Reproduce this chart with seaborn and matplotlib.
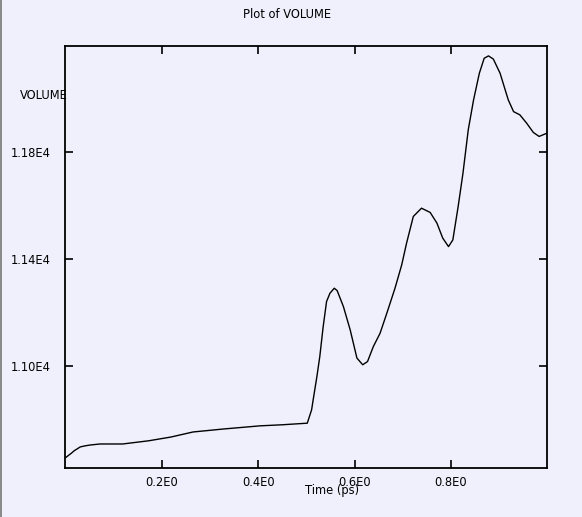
import numpy as np
import pandas as pd
import matplotlib
matplotlib.use('Agg')
import matplotlib.pyplot as plt
from matplotlib.patches import Rectangle
import seaborn as sns

# 데이터
time_ps = [0.0, 0.013, 0.018, 0.031, 0.041, 0.051, 0.072, 0.119, 0.173, 0.219,
           0.265, 0.327, 0.404, 0.450, 0.502, 0.511, 0.514, 0.522, 0.528, 0.535,
           0.542, 0.549, 0.558, 0.564, 0.577, 0.591, 0.605, 0.617, 0.627, 0.639,
           0.653, 0.667, 0.684, 0.698, 0.708, 0.722, 0.739, 0.757, 0.771, 0.783,
           0.795, 0.804, 0.815, 0.825, 0.836, 0.847, 0.859, 0.869, 0.878, 0.888,
           0.902, 0.919, 0.930, 0.943, 0.957, 0.971, 0.983, 0.999]
volume = [10654, 10672, 10680, 10695, 10699, 10702, 10706, 10706, 10718, 10732,
          10751, 10762, 10774, 10778, 10784, 10834, 10869, 10959, 11034, 11146,
          11240, 11271, 11290, 11281, 11221, 11134, 11028, 11003, 11015, 11071,
          11121, 11196, 11290, 11378, 11459, 11559, 11590, 11574, 11534, 11478,
          11446, 11471, 11596, 11721, 11884, 11996, 12096, 12152, 12161, 12149,
          12096, 11996, 11952, 11940, 11909, 11874, 11859, 11871]

x_ticks = [0.2, 0.4, 0.6, 0.8]
x_tick_labels = ['0.2E0', '0.4E0', '0.6E0', '0.8E0']
y_ticks = [11000, 11400, 11800]
y_tick_labels = ['1.10E4', '1.14E4', '1.18E4']

df = pd.DataFrame({'Time (ps)': time_ps, 'VOLUME': volume})

sns.set_style('white')
plt.rcParams['font.family'] = ['DejaVu Sans']
plt.rcParams['text.color'] = 'black'

bg = '#f0f0fc'
fig = plt.figure(figsize=(5.82, 5.17), dpi=100, facecolor=bg)
ax = fig.add_axes([0.1122, 0.0948, 0.8282, 0.8162])
ax.set_facecolor(bg)

sns.lineplot(data=df, x='Time (ps)', y='VOLUME', ax=ax, color='black', linewidth=1.0)

ax.set_xlim(0, 1.0)
ax.set_ylim(10616, 12198)
ax.set_xticks(x_ticks)
ax.set_xticklabels(x_tick_labels)
ax.set_yticks(y_ticks)
ax.set_yticklabels(y_tick_labels)
ax.set_xlabel('')
ax.set_ylabel('')

ax.tick_params(axis='both', direction='in', length=6, width=1.2, color='black',
               labelsize=8.3, labelcolor='black', top=True, right=True,
               bottom=True, left=True)
ax.tick_params(axis='y', pad=10.5)
ax.tick_params(axis='x', pad=6)
for s in ax.spines.values():
    s.set_visible(True)
    s.set_color('black')
    s.set_linewidth(1.3)

# 제목과 축 이름
fig.text(0.493, 0.971, 'Plot of VOLUME', ha='center', va='center', fontsize=8.3, color='black')
fig.text(0.034, 0.816, 'VOLUME', ha='left', va='center', fontsize=8.3, color='black')
fig.text(0.570, 0.052, 'Time (ps)', ha='center', va='center', fontsize=8.3, color='black')

# 왼쪽 창 테두리
fig.patches.append(Rectangle((0, 0), 0.004, 1, transform=fig.transFigure,
                             facecolor='#8a8a8a', edgecolor='none'))

fig.savefig('out.png', dpi=100, facecolor=bg)
